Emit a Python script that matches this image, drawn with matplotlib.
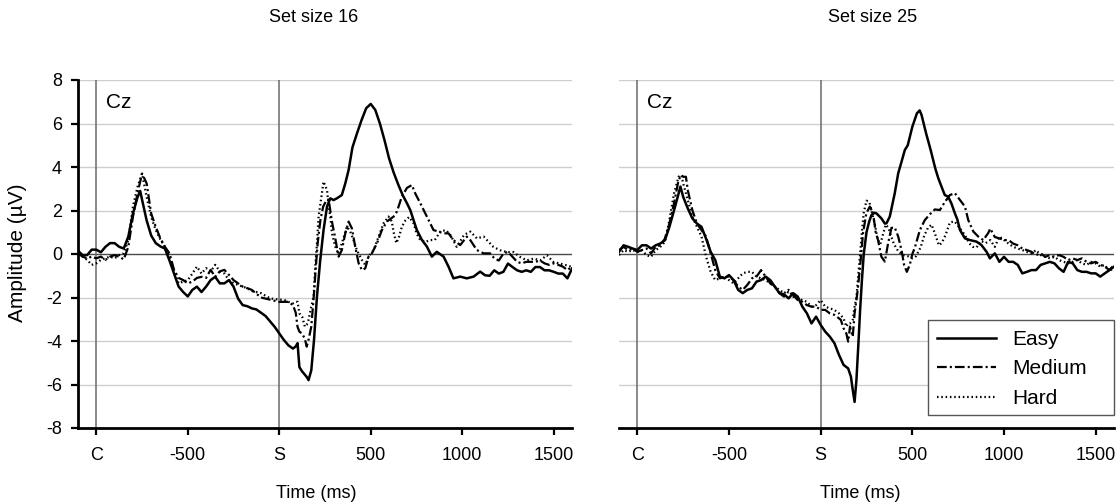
import matplotlib
matplotlib.use("Agg")
import matplotlib.pyplot as plt
from matplotlib.patches import Rectangle

plt.rcParams["font.family"] = ["Liberation Sans", "DejaVu Sans"]
plt.rcParams["axes.unicode_minus"] = False
plt.rcParams["lines.scale_dashes"] = False

# ---- grand-average ERP at Cz (time in ms relative to stimulus S; C = cue at -1000) ----
T16_EASY = [-1100, -1075, -1050, -1025, -1000, -975, -950, -925, -900, -875, -850, -825, -800, -775, -760, -750,
            -725, -700, -675, -650, -625, -600, -575, -550, -525, -500, -475, -450, -425, -400, -375, -350, -325,
            -300, -275, -250, -225, -200, -175, -150, -125, -100, -75, -50, -25, 0, 25, 50, 75, 90, 100, 110, 125,
            150, 160, 175, 190, 206, 224, 242, 261, 279, 297, 315, 342, 361, 379, 400, 425, 450, 475, 500, 525,
            550, 575, 600, 625, 650, 675, 700, 716, 752, 780, 807, 834, 861, 898, 925, 952, 989, 1025, 1062,
            1098, 1125, 1150, 1175, 1200, 1225, 1250, 1275, 1300, 1325, 1350, 1375, 1400, 1425, 1450, 1475, 1500,
            1525, 1550, 1575, 1600]
V16_EASY = [0.15, -0.05, -0.05, 0.2, 0.2, 0.08, 0.33, 0.5, 0.5, 0.33, 0.25, 0.8, 1.85, 2.6, 2.9, 2.5,
            1.55, 0.85, 0.5, 0.35, 0.25, -0.3, -0.9, -1.5, -1.75, -1.95, -1.65, -1.5, -1.75, -1.5, -1.2, -1.05, -1.35,
            -1.35, -1.2, -1.5, -2.05, -2.35, -2.4, -2.5, -2.55, -2.7, -2.85, -3.1, -3.35, -3.65, -3.95, -4.2, -4.35,
            -4.25, -4.1, -5.2, -5.4, -5.65, -5.8, -5.35, -3.95, -1.96, -0.28, 1.1, 2.18, 2.56, 2.48, 2.56, 2.71,
            3.25, 3.86, 4.9, 5.55, 6.16, 6.7, 6.9, 6.62, 6.0, 5.24, 4.4, 3.75, 3.2, 2.7, 2.3, 2.02, 1.1, 0.64,
            0.34, -0.12, 0.1, -0.12, -0.58, -1.12, -1.04, -1.12, -1.04, -0.81, -0.98, -1.0, -0.75, -0.9, -0.82,
            -0.44, -0.6, -0.75, -0.82, -0.75, -0.82, -0.6, -0.6, -0.75, -0.75, -0.82, -0.9, -0.9, -1.12, -0.67]

T16_MEDIUM = [-1100, -1075, -1050, -1025, -1000, -975, -950, -925, -900, -875, -850, -825, -800, -775, -750, -725,
              -700, -675, -650, -625, -600, -575, -550, -525, -500, -475, -450, -425, -400, -375, -350, -325, -300,
              -275, -250, -225, -200, -175, -150, -100, -50, 0, 25, 50, 75, 90, 100, 110, 125, 140, 150, 160, 175,
              190, 200, 210, 225, 240, 260, 270, 288, 306, 324, 342, 361, 379, 397, 415, 434, 452, 470, 488, 506,
              534, 561, 588, 625, 643, 670, 698, 725, 743, 771, 798, 825, 843, 871, 898, 925, 952, 989, 1025, 1044,
              1080, 1117, 1153, 1175, 1200, 1225, 1250, 1275, 1300, 1325, 1350, 1375, 1400, 1425, 1450, 1475,
              1500, 1525, 1550, 1575, 1600]
V16_MEDIUM = [0.03, -0.12, -0.2, -0.12, -0.2, -0.12, -0.27, -0.12, -0.05, -0.12, -0.25, 0.33, 1.7, 2.78, 3.7, 3.25,
              1.86, 1.25, 0.72, 0.33, 0.03, -0.73, -1.1, -1.2, -1.35, -1.27, -1.1, -1.05, -1.1, -0.73, -1.05, -0.8,
              -0.73, -0.96, -1.2, -1.35, -1.5, -1.57, -1.65, -2.0, -2.1, -2.2, -2.2, -2.2, -2.35, -2.7, -3.35, -3.57,
              -3.66, -3.9, -4.26, -3.95, -3.34, -1.8, -0.58, 0.5, 1.57, 2.18, 2.5, 2.5, 1.49, 0.72, -0.12, 0.18,
              0.95, 1.49, 1.18, 0.34, -0.43, -0.74, -0.66, -0.12, 0.03, 0.49, 1.1, 1.49, 1.72, 1.95, 2.64, 3.04,
              3.17, 2.79, 2.33, 1.87, 1.41, 1.1, 1.03, 0.95, 0.95, 0.64, 0.41, 0.8, 0.64, 0.18, 0.03, 0.03, -0.2,
              -0.3, 0.02, 0.1, -0.13, -0.36, -0.43, -0.36, -0.36, -0.36, -0.3, -0.43, -0.5, -0.43, -0.5, -0.58,
              -0.74, -0.58]

T16_HARD = [-1100, -1075, -1050, -1025, -1000, -975, -950, -925, -900, -875, -850, -825, -800, -775, -750, -725,
            -700, -675, -650, -625, -600, -575, -550, -525, -500, -475, -450, -425, -400, -375, -350, -325, -300,
            -275, -250, -225, -200, -175, -150, -100, -50, 0, 25, 50, 75, 90, 100, 110, 125, 140, 150, 160, 175,
            188, 197, 206, 215, 233, 242, 261, 270, 279, 288, 306, 324, 342, 370, 388, 406, 424, 452, 470, 488,
            516, 543, 570, 597, 615, 625, 640, 655, 670, 690, 710, 735, 750, 770, 800, 825, 850, 880, 910, 935,
            970, 1010, 1045, 1080, 1117, 1171, 1208, 1244, 1280, 1317, 1353, 1390, 1426, 1463, 1499, 1535, 1571,
            1600]
V16_HARD = [-0.05, -0.12, -0.27, -0.5, -0.43, -0.27, -0.2, -0.12, -0.2, -0.05, 0.03, 0.64, 2.17, 3.08, 3.7, 2.63,
            1.7, 1.1, 0.67, 0.33, -0.12, -0.8, -1.35, -1.27, -1.2, -0.9, -0.58, -0.9, -0.65, -0.8, -0.5, -0.8, -0.9,
            -1.2, -1.35, -1.42, -1.5, -1.57, -1.7, -1.8, -2.04, -2.1, -2.1, -2.2, -2.27, -2.2, -2.2, -2.73, -2.88,
            -3.34, -3.26, -3.03, -2.42, -1.96, -0.58, 0.49, 1.72, 2.79, 3.33, 2.94, 2.18, 1.72, 0.95, 0.34, 0.0,
            0.49, 1.26, 1.03, 0.64, 0.18, -0.28, -0.5, -0.12, 0.18, 0.8, 1.41, 1.72, 1.5, 1.0, 0.5, 0.8, 1.25,
            1.55, 1.7, 1.4, 0.95, 0.65, 0.56, 0.64, 0.64, 1.03, 1.1, 0.88, 0.33, 0.88, 1.03, 0.72, 0.8, 0.32,
            0.17, 0.09, 0.09, -0.14, -0.29, -0.21, -0.29, -0.06, -0.37, -0.44, -0.52, -0.6]

T25_EASY = [-1100, -1075, -1050, -1025, -1000, -975, -950, -925, -900, -875, -850, -825, -800, -775, -765, -750,
            -725, -700, -675, -650, -625, -600, -575, -550, -525, -500, -475, -450, -425, -400, -375, -350, -325,
            -300, -275, -250, -225, -200, -175, -150, -125, -100, -75, -50, -25, 0, 25, 50, 75, 100, 125, 150,
            165, 175, 185, 195, 205, 215, 225, 235, 250, 265, 277, 290, 304, 331, 350, 359, 377, 404, 423, 441,
            459, 475, 500, 525, 540, 550, 575, 600, 625, 641, 659, 677, 695, 713, 732, 745, 760, 787, 814, 850,
            877, 905, 923, 950, 975, 1000, 1025, 1050, 1075, 1100, 1125, 1150, 1175, 1200, 1225, 1250, 1275, 1300,
            1325, 1350, 1375, 1400, 1425, 1450, 1475, 1500, 1525, 1550, 1575, 1600]
V25_EASY = [0.1, 0.4, 0.33, 0.25, 0.18, 0.4, 0.4, 0.25, 0.4, 0.48, 0.63, 1.25, 2.0, 2.78, 3.1, 2.63,
            2.1, 1.64, 1.4, 1.25, 0.7, 0.1, -0.28, -1.04, -1.12, -0.97, -1.2, -1.65, -1.8, -1.65, -1.58, -1.27,
            -1.2, -1.04, -1.2, -1.5, -1.8, -1.85, -2.04, -1.8, -1.96, -2.42, -2.73, -3.19, -2.88, -3.26, -3.57,
            -3.8, -4.1, -4.64, -5.1, -5.26, -5.64, -6.25, -6.8, -5.8, -4.26, -2.6, -1.2, 0.0, 1.0, 1.5, 1.79,
            1.9, 1.87, 1.64, 1.4, 1.41, 1.72, 2.79, 3.71, 4.24, 4.78, 5.0, 5.85, 6.47, 6.6, 6.4, 5.55, 4.78,
            3.94, 3.5, 3.1, 2.71, 2.64, 2.33, 1.87, 1.6, 1.1, 0.72, 0.64, 0.57, 0.41, 0.1, -0.2, 0.03, -0.36,
            -0.13, -0.36, -0.36, -0.5, -0.89, -0.82, -0.74, -0.74, -0.5, -0.43, -0.36, -0.43, -0.66, -0.82,
            -0.36, -0.43, -0.74, -0.82, -0.82, -0.89, -0.89, -1.04, -0.89, -0.74, -0.58]

T25_MEDIUM = [-1100, -1075, -1050, -1025, -1000, -975, -950, -925, -900, -875, -850, -825, -800, -775, -760, -750,
              -735, -725, -700, -675, -650, -625, -600, -575, -550, -525, -500, -475, -450, -425, -400, -375, -350,
              -325, -300, -275, -250, -225, -200, -175, -150, -125, -100, -75, -50, -25, 0, 25, 50, 75, 100, 110,
              125, 140, 150, 160, 175, 185, 200, 215, 231, 249, 268, 286, 300, 313, 331, 350, 368, 386, 404, 423,
              441, 455, 470, 486, 500, 514, 541, 568, 596, 623, 650, 678, 705, 732, 760, 787, 805, 833, 860, 887,
              915, 925, 950, 975, 1000, 1025, 1050, 1075, 1100, 1125, 1150, 1175, 1200, 1225, 1250, 1275, 1300,
              1325, 1350, 1375, 1400, 1425, 1450, 1475, 1500, 1525, 1550, 1575, 1600]
V25_MEDIUM = [0.18, 0.33, 0.18, 0.25, 0.1, 0.18, 0.25, 0.03, 0.33, 0.4, 0.7, 1.4, 2.33, 3.4, 3.63, 3.55,
              3.55, 2.94, 2.02, 1.4, 1.1, 0.8, 0.03, -0.74, -1.12, -1.04, -1.04, -1.2, -1.5, -1.65, -1.42, -1.12,
              -1.04, -0.74, -1.04, -1.35, -1.5, -1.8, -1.96, -1.73, -1.88, -2.12, -2.2, -2.35, -2.42, -2.42, -2.57,
              -2.57, -2.73, -2.8, -2.96, -3.03, -3.42, -3.65, -4.03, -3.34, -3.8, -2.73, -1.8, -0.58, 0.95, 1.87,
              2.18, 1.87, 1.0, 0.64, -0.12, -0.35, 0.5, 1.2, 1.22, 0.8, 0.18, -0.5, -0.82, -0.5, 0.0, 0.3, 1.1,
              1.56, 1.83, 2.05, 2.02, 2.4, 2.71, 2.8, 2.48, 2.18, 1.56, 1.03, 0.8, 0.64, 0.98, 1.17, 0.78, 0.72,
              0.64, 0.64, 0.48, 0.4, 0.25, 0.18, 0.1, -0.05, 0.03, -0.13, -0.05, -0.13, -0.05, -0.13, -0.28, -0.2,
              -0.28, -0.2, -0.36, -0.43, -0.36, -0.5, -0.58, -0.74, -0.5]

T25_HARD = [-1100, -1075, -1050, -1025, -1000, -975, -950, -925, -900, -875, -850, -825, -800, -775, -760, -750,
            -725, -700, -675, -650, -625, -600, -575, -550, -525, -500, -475, -450, -425, -400, -375, -350, -325,
            -300, -275, -250, -225, -200, -175, -150, -125, -100, -75, -50, -25, 0, 25, 50, 75, 100, 125, 140,
            150, 160, 175, 185, 195, 205, 215, 225, 235, 250, 265, 280, 295, 310, 325, 340, 355, 370, 385, 400,
            425, 450, 475, 500, 520, 545, 565, 585, 605, 625, 645, 660, 680, 705, 730, 760, 787, 810, 830, 850,
            875, 900, 925, 950, 975, 1000, 1025, 1050, 1075, 1100, 1125, 1150, 1175, 1200, 1225, 1250, 1275,
            1300, 1325, 1350, 1375, 1400, 1425, 1450, 1475, 1500, 1525, 1550, 1575, 1600]
V25_HARD = [-0.05, 0.18, 0.1, 0.18, 0.1, 0.18, -0.05, -0.13, 0.18, 0.33, 0.55, 1.56, 2.78, 3.55, 3.63, 3.25,
            2.48, 1.72, 1.25, 0.8, -0.13, -0.82, -1.2, -1.12, -1.04, -1.2, -1.35, -1.12, -0.89, -0.82, -0.82,
            -1.04, -1.12, -1.2, -1.35, -1.5, -1.65, -1.8, -1.65, -1.96, -2.04, -2.12, -2.2, -2.42, -2.35, -2.12,
            -2.42, -2.5, -2.57, -2.73, -2.96, -3.34, -3.19, -3.19, -3.03, -2.42, -2.0, -1.0, 0.0, 1.0, 1.9, 2.45,
            2.4, 1.9, 1.4, 0.7, 0.45, 0.9, 1.35, 1.2, 0.8, 0.45, 0.1, -0.05, -0.1, -0.2, -0.1, 0.3, 0.85, 1.2,
            1.35, 0.9, 0.4, 0.5, 0.85, 1.45, 1.5, 1.18, 0.87, 0.5, 0.33, 0.3, 0.6, 0.5, 0.64, 0.33, 0.8, 0.64,
            0.48, 0.33, 0.25, 0.18, 0.1, 0.03, 0.18, -0.05, -0.13, -0.2, -0.13, -0.28, -0.36, -0.43, -0.36,
            -0.28, -0.43, -0.5, -0.36, -0.43, -0.58, -0.5, -0.82, -0.58]

CONDITIONS = ["Easy", "Medium", "Hard"]
PANEL_TITLES = ["Set size 16", "Set size 25"]
XTICKS = [-1000, -500, 0, 500, 1000, 1500]
XTICK_LABELS = ["C", "-500", "S", "500", "1000", "1500"]
YTICKS = [-8, -6, -4, -2, 0, 2, 4, 6, 8]

panels = [
    [(T16_EASY, V16_EASY), (T16_MEDIUM, V16_MEDIUM), (T16_HARD, V16_HARD)],
    [(T25_EASY, V25_EASY), (T25_MEDIUM, V25_MEDIUM), (T25_HARD, V25_HARD)],
]

styles = [
    dict(linestyle="-", linewidth=1.8),
    dict(linestyle=(0, (7.0, 2.2, 1.5, 2.2)), linewidth=1.6),
    dict(linestyle=(0, (1.1, 2.0)), linewidth=1.6),
]

W, H = 1120, 504
fig = plt.figure(figsize=(W / 100, H / 100), dpi=100)


def box(x0, x1, y0, y1):
    return [x0 / W, 1 - y1 / H, (x1 - x0) / W, (y1 - y0) / H]


axes = [fig.add_axes(box(78, 572, 80, 428)), fig.add_axes(box(619, 1114, 80, 428))]

for i, ax in enumerate(axes):
    ax.set_xlim(-1100, 1600)
    ax.set_ylim(-8, 8)
    for y in YTICKS:
        if y != 0:
            ax.axhline(y, color="#cfcfcf", linewidth=1.0, zorder=0)
    ax.axhline(0, color="#4a4a4a", linewidth=1.0, zorder=1)
    ax.axvline(-1000, color="#6a6a6a", linewidth=1.1, zorder=1)
    ax.axvline(0, color="#6a6a6a", linewidth=1.1, zorder=1)

    for (t, v), name, st in zip(panels[i], CONDITIONS, styles):
        ax.plot(t, v, color="black", label=name, zorder=3, solid_joinstyle="round", **st)

    for s in ["top", "right"]:
        ax.spines[s].set_visible(False)
    ax.spines["bottom"].set_linewidth(2.0)
    ax.spines["bottom"].set_zorder(4)
    ax.set_xticks(XTICKS)
    ax.set_xticklabels(XTICK_LABELS)
    ax.tick_params(axis="x", direction="out", length=5, width=1.6, pad=9, labelsize=13)

    if i == 0:
        ax.spines["left"].set_linewidth(2.0)
        ax.set_yticks(YTICKS)
        ax.set_yticklabels([str(y) for y in YTICKS])
        ax.tick_params(axis="y", direction="out", length=5, width=1.6, pad=6.5, labelsize=13)
    else:
        ax.spines["left"].set_visible(False)
        ax.set_yticks([])

    ax.text(0.057, 0.934, "Cz", transform=ax.transAxes, fontsize=15, va="center", ha="left")

fig.text(314 / W, 1 - 18 / H, PANEL_TITLES[0], ha="center", va="center", fontsize=13)
fig.text(873 / W, 1 - 18 / H, PANEL_TITLES[1], ha="center", va="center", fontsize=13)
fig.text(316 / W, 1 - 494 / H, "Time (ms)", ha="center", va="center", fontsize=13)
fig.text(860 / W, 1 - 494 / H, "Time (ms)", ha="center", va="center", fontsize=13)
fig.text(18 / W, 1 - 253 / H, "Amplitude (\u00b5V)", ha="center", va="center", rotation=90, fontsize=15)

# legend: white box in the lower right corner of the second panel, entries inside it
ax2 = axes[1]
lx0, lx1, ly0, ly1 = 928, 1114, 320, 415  # box edges in figure pixels
frame = Rectangle(((lx0 - 619) / 495, (428 - ly1) / 348), (lx1 - lx0) / 495, (ly1 - ly0) / 348,
                  transform=ax2.transAxes, facecolor="white", edgecolor="#555555", linewidth=1.0,
                  zorder=5, clip_on=False)
ax2.add_patch(frame)
leg = ax2.legend(loc="upper left", bbox_to_anchor=((937 - 619) / 495, (428 - 330) / 348),
                 borderaxespad=0, borderpad=0, frameon=False, fontsize=15, handlelength=2.85,
                 handletextpad=0.75, labelspacing=0.5)
leg.set_zorder(6)

fig.savefig("out.png", dpi=100)
